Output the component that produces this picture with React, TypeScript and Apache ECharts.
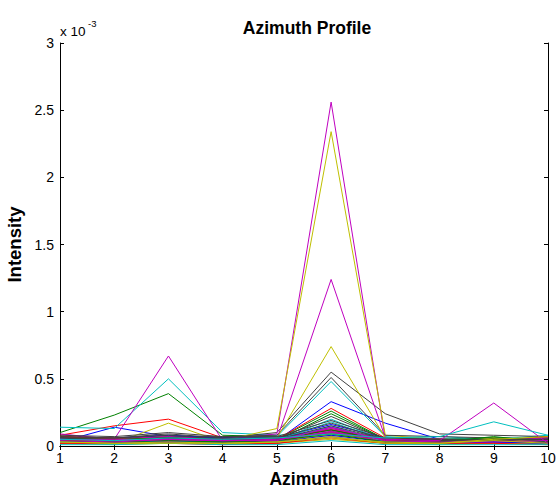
import React, { useEffect, useRef } from "react";
import * as echarts from "echarts";

// Azimuth positions
const azimuth = [1, 2, 3, 4, 5, 6, 7, 8, 9, 10];
// Y tick labels are in units of 1e-3
const yTicks = [0, 0.5, 1, 1.5, 2, 2.5, 3];

// MATLAB colour order
const C = {
  b: "#0000FF",
  g: "#008000",
  r: "#FF0000",
  c: "#00BFBF",
  m: "#BF00BF",
  y: "#BFBF00",
  k: "#404040",
};

// Intensity profiles (x 1e-3), one per curve
const profileNames = [
  "p01", "p02", "p03", "p04", "p05", "p06", "p07", "p08", "p09", "p10",
  "p11", "p12", "p13", "p14", "p15", "p16", "p17", "p18", "p19", "p20",
  "p21", "p22", "p23", "p24", "p25", "p26", "p27", "p28", "p29", "p30",
  "p31", "p32", "p33", "p34", "p35", "p36", "p37", "p38", "p39", "p40",
  "p41", "p42", "p43", "p44", "p45",
];
const profileColors = [
  "b", "g", "r", "c", "m", "y", "k", "b", "g", "r",
  "c", "m", "y", "k", "b", "g", "r", "c", "m", "y",
  "k", "b", "g", "r", "c", "m", "y", "k", "b", "g",
  "r", "c", "m", "y", "k", "b", "g", "r", "c", "m",
  "y", "k", "m", "y", "c",
];
const profiles = [
  [0.03, 0.14, 0.07, 0.06, 0.05, 0.12, 0.05, 0.03, 0.04, 0.05],
  [0.10, 0.23, 0.39, 0.08, 0.07, 0.09, 0.05, 0.05, 0.06, 0.05],
  [0.08, 0.15, 0.20, 0.06, 0.06, 0.10, 0.05, 0.04, 0.05, 0.06],
  [0.14, 0.13, 0.50, 0.10, 0.08, 0.10, 0.06, 0.07, 0.05, 0.08],
  [0.09, 0.05, 0.67, 0.04, 0.06, 0.12, 0.04, 0.03, 0.05, 0.03],
  [0.05, 0.02, 0.17, 0.03, 0.05, 0.08, 0.04, 0.03, 0.05, 0.04],
  [0.06, 0.05, 0.08, 0.06, 0.10, 0.55, 0.24, 0.09, 0.08, 0.07],
  [0.04, 0.05, 0.06, 0.05, 0.04, 0.33, 0.17, 0.05, 0.04, 0.03],
  [0.05, 0.04, 0.06, 0.04, 0.05, 0.26, 0.05, 0.04, 0.06, 0.05],
  [0.06, 0.05, 0.07, 0.05, 0.05, 0.28, 0.06, 0.04, 0.05, 0.04],
  [0.05, 0.04, 0.06, 0.05, 0.07, 0.48, 0.07, 0.05, 0.06, 0.05],
  [0.05, 0.04, 0.06, 0.05, 0.09, 2.56, 0.05, 0.04, 0.04, 0.03],
  [0.04, 0.03, 0.05, 0.04, 0.13, 2.34, 0.08, 0.05, 0.03, 0.02],
  [0.05, 0.04, 0.07, 0.07, 0.08, 0.51, 0.08, 0.07, 0.06, 0.05],
  [0.07, 0.06, 0.08, 0.06, 0.06, 0.16, 0.06, 0.05, 0.03, 0.05],
  [0.04, 0.04, 0.05, 0.04, 0.04, 0.24, 0.05, 0.05, 0.05, 0.04],
  [0.07, 0.06, 0.05, 0.05, 0.05, 0.12, 0.04, 0.05, 0.04, 0.07],
  [0.03, 0.03, 0.05, 0.03, 0.04, 0.20, 0.04, 0.03, 0.04, 0.03],
  [0.06, 0.05, 0.07, 0.05, 0.05, 1.24, 0.06, 0.05, 0.04, 0.04],
  [0.05, 0.04, 0.05, 0.04, 0.06, 0.74, 0.06, 0.04, 0.05, 0.03],
  [0.04, 0.03, 0.06, 0.04, 0.05, 0.22, 0.05, 0.04, 0.04, 0.03],
  [0.06, 0.04, 0.05, 0.04, 0.05, 0.14, 0.04, 0.03, 0.03, 0.04],
  [0.03, 0.04, 0.04, 0.03, 0.03, 0.11, 0.04, 0.03, 0.06, 0.03],
  [0.07, 0.05, 0.05, 0.05, 0.04, 0.13, 0.05, 0.05, 0.04, 0.05],
  [0.03, 0.03, 0.04, 0.03, 0.04, 0.18, 0.04, 0.03, 0.03, 0.03],
  [0.05, 0.04, 0.05, 0.04, 0.05, 0.13, 0.05, 0.04, 0.04, 0.04],
  [0.04, 0.03, 0.04, 0.03, 0.03, 0.09, 0.03, 0.02, 0.06, 0.02],
  [0.08, 0.07, 0.10, 0.07, 0.07, 0.19, 0.06, 0.05, 0.05, 0.06],
  [0.02, 0.02, 0.03, 0.02, 0.02, 0.07, 0.02, 0.02, 0.03, 0.02],
  [0.06, 0.05, 0.06, 0.05, 0.05, 0.12, 0.04, 0.04, 0.05, 0.05],
  [0.04, 0.04, 0.03, 0.03, 0.04, 0.10, 0.04, 0.03, 0.02, 0.03],
  [0.03, 0.02, 0.04, 0.02, 0.03, 0.15, 0.03, 0.02, 0.02, 0.02],
  [0.05, 0.05, 0.04, 0.05, 0.04, 0.11, 0.03, 0.04, 0.04, 0.06],
  [0.02, 0.01, 0.02, 0.02, 0.02, 0.05, 0.02, 0.01, 0.02, 0.01],
  [0.07, 0.06, 0.09, 0.06, 0.06, 0.17, 0.05, 0.05, 0.04, 0.05],
  [0.03, 0.03, 0.03, 0.03, 0.03, 0.08, 0.03, 0.02, 0.03, 0.02],
  [0.04, 0.03, 0.04, 0.03, 0.04, 0.09, 0.03, 0.03, 0.07, 0.03],
  [0.02, 0.02, 0.02, 0.01, 0.02, 0.06, 0.02, 0.02, 0.02, 0.01],
  [0.01, 0.01, 0.02, 0.01, 0.01, 0.04, 0.01, 0.01, 0.01, 0.01],
  [0.05, 0.04, 0.05, 0.04, 0.04, 0.14, 0.04, 0.03, 0.03, 0.04],
  [0.03, 0.02, 0.02, 0.02, 0.03, 0.07, 0.02, 0.02, 0.04, 0.02],
  [0.06, 0.06, 0.08, 0.05, 0.05, 0.15, 0.05, 0.04, 0.05, 0.05],
  [0.04, 0.03, 0.05, 0.04, 0.05, 0.10, 0.05, 0.04, 0.32, 0.02],
  [0.03, 0.02, 0.03, 0.02, 0.03, 0.06, 0.03, 0.02, 0.05, 0.07],
  [0.05, 0.04, 0.06, 0.05, 0.06, 0.09, 0.06, 0.07, 0.18, 0.08],
];

const FONT = "'Liberation Sans', Arial, Helvetica, sans-serif";

export default function App() {
  const ref = useRef<HTMLDivElement>(null);

  useEffect(() => {
    if (!ref.current) return;
    const chart = echarts.init(ref.current, undefined, { renderer: "svg" });
    const series = profiles.map((vals, i) => {
      const key = profileColors[i] as keyof typeof C;
      return {
        name: profileNames[i],
        type: "line",
        xAxisIndex: 0,
        yAxisIndex: 0,
        data: vals.map((v, j) => [azimuth[j], v]),
        showSymbol: false,
        symbol: "none",
        lineStyle: { width: 1, color: C[key] },
        itemStyle: { color: C[key] },
        silent: true,
        z: i,
      };
    });

    const axisCommon = {
      axisLine: { show: true, lineStyle: { color: "#000", width: 1 } },
      axisTick: { show: true, inside: true, length: 4, lineStyle: { color: "#000" } },
      splitLine: { show: false },
    };

    chart.setOption({
      animation: false,
      backgroundColor: "#fff",
      title: {
        text: "Azimuth Profile",
        left: 302,
        textAlign: "center",
        top: 14,
        textStyle: { fontFamily: FONT, fontSize: 17.5, fontWeight: "bold", color: "#000" },
      },
      grid: {
        left: 60,
        right: 11,
        top: 43,
        bottom: 45,
        containLabel: false,
        outerBoundsMode: "none",
      },
      xAxis: [
        {
          type: "value",
          min: 1,
          max: 10,
          interval: 1,
          position: "bottom",
          name: "Azimuth",
          nameLocation: "middle",
          nameGap: 24,
          nameTextStyle: { fontFamily: FONT, fontSize: 17.5, fontWeight: "bold", color: "#000" },
          axisLabel: { fontFamily: FONT, fontSize: 14, color: "#000", margin: 5 },
          ...axisCommon,
        },
        {
          type: "value",
          min: 1,
          max: 10,
          interval: 1,
          position: "top",
          axisLabel: { show: false },
          ...axisCommon,
        },
      ],
      yAxis: [
        {
          type: "value",
          min: yTicks[0],
          max: yTicks[yTicks.length - 1],
          interval: 0.5,
          position: "left",
          name: "Intensity",
          nameLocation: "middle",
          nameRotate: 90,
          nameGap: 30,
          nameTextStyle: { fontFamily: FONT, fontSize: 18.5, fontWeight: "bold", color: "#000" },
          axisLabel: { fontFamily: FONT, fontSize: 14, color: "#000", margin: 6 },
          ...axisCommon,
        },
        {
          type: "value",
          min: yTicks[0],
          max: yTicks[yTicks.length - 1],
          interval: 0.5,
          position: "right",
          axisLabel: { show: false },
          ...axisCommon,
        },
      ],
      graphic: [
        {
          type: "text",
          left: 60,
          top: 24,
          style: { text: "x 10", fontFamily: FONT, fontSize: 13.5, fill: "#000" },
        },
        {
          type: "text",
          left: 88,
          top: 18,
          style: { text: "-3", fontFamily: FONT, fontSize: 9.5, fill: "#000" },
        },
      ],
      series,
    });
    return () => chart.dispose();
  }, []);

  return <div ref={ref} style={{ width: 559, height: 491, position: "absolute", left: 0, top: 0 }} />;
}
